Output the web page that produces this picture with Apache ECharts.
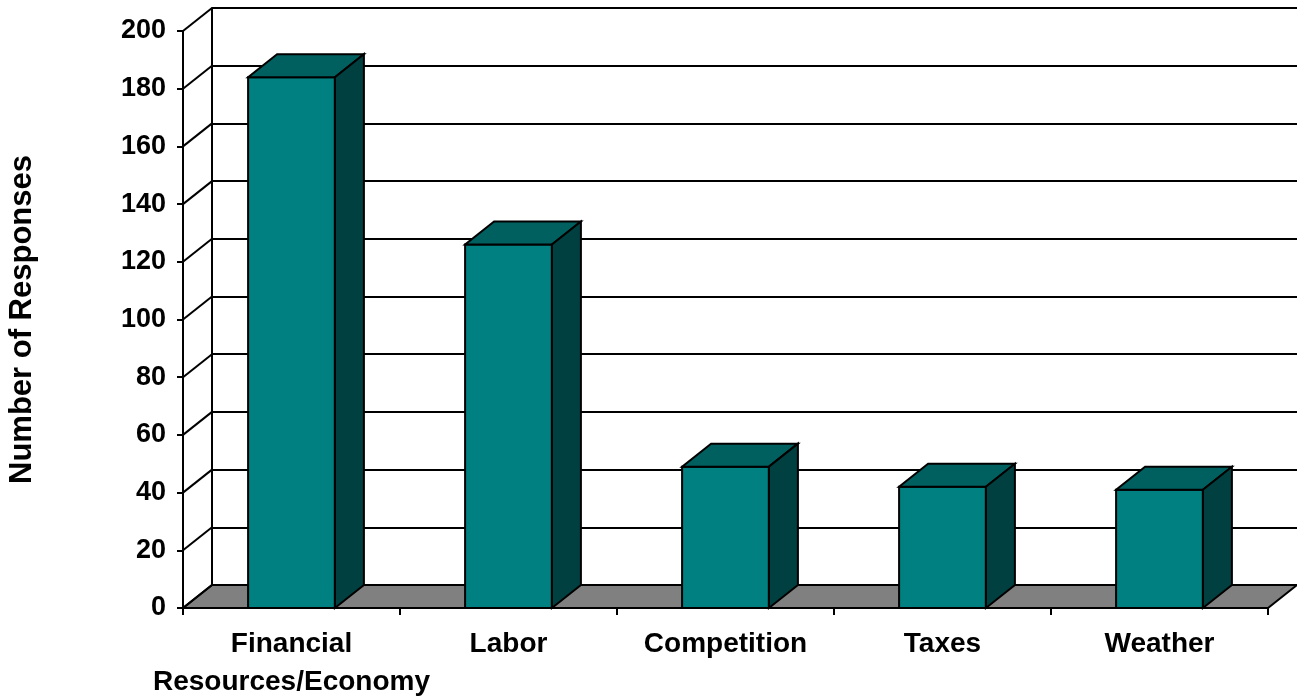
<!DOCTYPE html>
<html>
<head>
<meta charset="utf-8">
<title>Number of Responses</title>
<script src="https://cdn.jsdelivr.net/npm/echarts@6/dist/echarts.min.js"></script>
<style>
  html, body { margin: 0; padding: 0; background: #ffffff; }
  #chart { width: 1297px; height: 698px; }
</style>
</head>
<body>
<div id="chart"></div>
<script>
// Survey answers: number of responses per category
const categories = ['Financial\nResources/Economy', 'Labor', 'Competition', 'Taxes', 'Weather'];
const responses = [184, 126, 49, 42, 41];
const yTicks = [0, 20, 40, 60, 80, 100, 120, 140, 160, 180, 200];

// 3-D depth of the box (pixels): back plane is shifted right and up
const DX = 29;
const DY = -23;
const FONT = '"Liberation Sans", Arial, sans-serif';

const chart = echarts.init(document.getElementById('chart'), null, { renderer: 'canvas' });

function poly(points, fill) {
  return {
    type: 'polygon',
    shape: { points: points },
    style: { fill: fill, stroke: '#000', lineWidth: 2, lineJoin: 'miter' }
  };
}

const option = {
  animation: false,
  backgroundColor: '#ffffff',
  grid: [
    // front plane
    { left: 183, top: 31, width: 1085, height: 577, outerBoundsMode: 'none', containLabel: false },
    // back wall
    { left: 183 + DX, top: 31 + DY, width: 1085, height: 577, outerBoundsMode: 'none', containLabel: false }
  ],
  xAxis: [
    {
      gridIndex: 0,
      type: 'category',
      data: categories,
      axisLine: { show: true, lineStyle: { color: '#000', width: 2 } },
      axisTick: { show: true, length: 7, lineStyle: { color: '#000', width: 2 } },
      axisLabel: {
        color: '#000', fontWeight: 'bold', fontSize: 28, fontFamily: FONT,
        lineHeight: 38, margin: 17, interval: 0
      }
    },
    {
      gridIndex: 1,
      type: 'category',
      data: categories,
      show: false
    }
  ],
  yAxis: [
    {
      gridIndex: 0,
      type: 'value',
      min: 0, max: 200, interval: 20,
      name: 'Number of Responses',
      nameLocation: 'middle',
      nameRotate: 90,
      nameGap: 145,
      nameTextStyle: { color: '#000', fontWeight: 'bold', fontSize: 31, fontFamily: FONT },
      axisLine: { show: true, lineStyle: { color: '#000', width: 2 } },
      axisTick: { show: true, length: 6, lineStyle: { color: '#000', width: 2 } },
      axisLabel: {
        color: '#000', fontWeight: 'bold', fontSize: 27, fontFamily: FONT, margin: 17
      },
      splitLine: { show: false }
    },
    {
      gridIndex: 1,
      type: 'value',
      min: 0, max: 200, interval: 20,
      axisLine: { show: true, lineStyle: { color: '#000', width: 2 } },
      axisTick: { show: false },
      axisLabel: { show: false },
      splitLine: { show: true, lineStyle: { color: '#000', width: 2 } }
    }
  ],
  series: [
    {
      // floor of the box
      type: 'custom',
      xAxisIndex: 0, yAxisIndex: 0,
      z: 3,
      silent: true,
      data: [[0, 0]],
      renderItem: function (params, api) {
        const cs = params.coordSys;
        const y0 = api.coord([0, api.value(1)])[1];
        const x0 = cs.x, x1 = cs.x + cs.width;
        return poly([[x0, y0], [x1, y0], [x1 + DX, y0 + DY], [x0 + DX, y0 + DY]], '#808080');
      }
    },
    {
      // left side wall edges joining front ticks to back gridlines
      type: 'custom',
      xAxisIndex: 0, yAxisIndex: 0,
      z: 3,
      silent: true,
      data: yTicks.map(function (v) { return [0, v]; }),
      renderItem: function (params, api) {
        const cs = params.coordSys;
        const y = api.coord([0, api.value(1)])[1];
        return {
          type: 'line',
          shape: { x1: cs.x, y1: y, x2: cs.x + DX, y2: y + DY },
          style: { stroke: '#000', lineWidth: 2 }
        };
      }
    },
    {
      // 3-D columns
      type: 'custom',
      xAxisIndex: 0, yAxisIndex: 0,
      z: 5,
      data: responses.map(function (v, i) { return [i, v]; }),
      renderItem: function (params, api) {
        const top = api.coord([api.value(0), api.value(1)]);
        const base = api.coord([api.value(0), 0]);
        const w = api.size([1, 0])[0] * 0.4;
        const xl = top[0] - w / 2, xr = top[0] + w / 2;
        const yt = top[1], yb = base[1];
        return {
          type: 'group',
          children: [
            poly([[xl, yb], [xr, yb], [xr, yt], [xl, yt]], '#008080'),
            poly([[xl, yt], [xr, yt], [xr + DX, yt + DY], [xl + DX, yt + DY]], '#006060'),
            poly([[xr, yb], [xr + DX, yb + DY], [xr + DX, yt + DY], [xr, yt]], '#004040')
          ]
        };
      }
    }
  ]
};

chart.setOption(option);
</script>
</body>
</html>
